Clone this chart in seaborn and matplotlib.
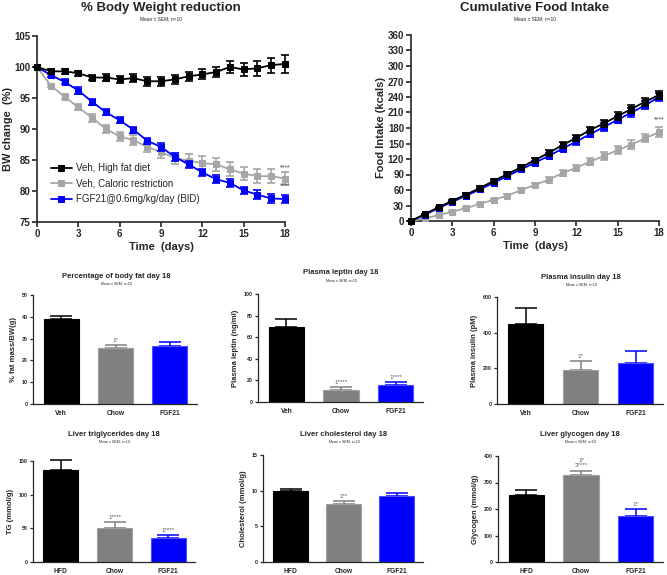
import numpy as np
import pandas as pd
import seaborn as sns
import matplotlib
matplotlib.use('Agg')
import matplotlib.pyplot as plt

# ---- time course data ----
days = list(range(19))
groups = ['Veh, High fat diet', 'Veh, Caloric restriction', 'FGF21@0.6mg/kg/day (BID)']
group_colors = ['#000000', '#a6a6a6', '#0000ff']

bw_hfd = [100, 99.3, 99.3, 99.0, 98.3, 98.3, 98.0, 98.2, 97.7, 97.7, 98.0, 98.5, 98.8, 99.2, 100.0, 99.6, 99.8, 100.3, 100.5]
bw_cr = [100, 97.0, 95.2, 93.5, 91.8, 90.0, 88.8, 88.2, 87.1, 86.3, 85.3, 84.9, 84.5, 84.3, 83.5, 82.8, 82.4, 82.4, 82.0]
bw_fgf = [100, 98.7, 97.6, 96.2, 94.4, 92.7, 91.4, 89.9, 88.1, 87.1, 85.5, 84.3, 83.0, 81.9, 81.3, 80.1, 79.4, 78.8, 78.7]
bw_hfd_sem = [0, 0.4, 0.4, 0.4, 0.4, 0.6, 0.6, 0.6, 0.7, 0.7, 0.7, 0.7, 0.8, 0.8, 0.9, 1.0, 1.2, 1.2, 1.4]
bw_cr_sem = [0, 0.3, 0.4, 0.5, 0.6, 0.7, 0.7, 0.8, 0.8, 0.9, 0.9, 1.0, 1.1, 1.1, 1.1, 1.1, 1.1, 1.1, 1.1]
bw_fgf_sem = [0, 0.3, 0.4, 0.5, 0.5, 0.5, 0.5, 0.5, 0.5, 0.6, 0.6, 0.6, 0.6, 0.6, 0.6, 0.6, 0.7, 0.7, 0.7]

fi_hfd = [0, 13.5, 26.5, 39.5, 51, 64, 77.5, 91, 104, 118, 132, 147, 161, 176, 189, 203, 217, 231, 244]
fi_cr = [0, 5, 11, 18, 25, 33, 41, 49, 60, 70, 80, 93, 103, 115, 126, 137, 148, 160, 172]
fi_fgf = [0, 12, 25, 37, 49, 61, 74, 87, 100, 113, 126, 140, 154, 168, 182, 196, 210, 224, 240]
fi_hfd_sem = [0, 1, 1.5, 2, 2.5, 3, 3, 3.5, 4, 4, 5, 5, 6, 6, 7, 7, 8, 8, 8]
fi_cr_sem = [0, 1, 1, 1.5, 2, 2, 2, 3, 3, 4, 5, 5, 6, 6, 7, 8, 8, 8, 9]
fi_fgf_sem = [0, 1, 1.5, 2, 2.5, 3, 3, 3.5, 4, 4, 5, 5, 6, 6, 7, 7, 8, 8, 8]

# ---- day 18 terminal data ----
bar_colors = ['#000000', '#808080', '#0000ff']
bar_edges = ['#000000', '#a0a0a0', '#4d4dff']
labels_veh = ['Veh', 'Chow', 'FGF21']
labels_hfd = ['HFD', 'Chow', 'FGF21']

fat_mean = [39.0, 25.5, 26.8]
fat_sem = [1.5, 1.7, 1.5]
fat_sig = ['', '1*', '']
leptin_mean = [69.5, 11.0, 16.0]
leptin_sem = [7.0, 3.0, 2.5]
leptin_sig = ['', '1****', '1****']
insulin_mean = [450, 190, 230]
insulin_sem = [90, 50, 65]
insulin_sig = ['', '1*', '']
tg_mean = [136, 50, 35]
tg_sem = [15, 10, 5]
tg_sig = ['', '1****', '1****']
chol_mean = [9.9, 8.2, 9.3]
chol_sem = [0.3, 0.3, 0.4]
chol_sig = ['', '1**', '']
gly_mean = [253, 330, 173]
gly_sem = [20, 15, 27]
gly_sig = ['', '1*\n3****', '1*']

W, H = 667, 575

sns.set_style('ticks')
plt.rcParams['font.family'] = ['Liberation Sans', 'DejaVu Sans']
plt.rcParams['axes.linewidth'] = 1.2
plt.rcParams['xtick.major.width'] = 1.2
plt.rcParams['ytick.major.width'] = 1.2

fig = plt.figure(figsize=(W / 100, H / 100), dpi=100)


def px_axes(x0, y0, x1, y1):
    return fig.add_axes([x0 / W, 1 - y1 / H, (x1 - x0) / W, (y1 - y0) / H])


def px_text(x, y, s, **kw):
    fig.text(x / W, 1 - y / H, s, ha='center', va='center', **kw)


def time_panel(ax, series, sems, ylim, yticks, ylabel):
    zs = [5, 3, 4]
    for i in range(3):
        df = pd.DataFrame({'day': days, 'val': series[i]})
        sns.lineplot(data=df, x='day', y='val', ax=ax, color=group_colors[i],
                     marker='s', markersize=4.8, markeredgecolor=group_colors[i],
                     linewidth=1.3, label=groups[i], zorder=zs[i], clip_on=False)
        ax.errorbar(days, series[i], yerr=sems[i], fmt='none', ecolor=group_colors[i],
                    elinewidth=1.2, capsize=2.8, capthick=1.2, zorder=zs[i], clip_on=False)
    ax.set_xlim(0, 18)
    ax.set_ylim(*ylim)
    ax.set_xticks(range(0, 19, 3))
    ax.set_yticks(yticks)
    sns.despine(ax=ax)
    ax.tick_params(labelsize=7, length=3.5, pad=1.5)
    for t in ax.get_xticklabels() + ax.get_yticklabels():
        t.set_fontweight('bold')
    ax.set_xlabel('Time  (days)', fontsize=8, fontweight='bold', labelpad=2)
    ax.set_ylabel(ylabel, fontsize=8, fontweight='bold', labelpad=1)


# % body weight
ax1 = px_axes(37, 36, 285, 222)
time_panel(ax1, [bw_hfd, bw_cr, bw_fgf], [bw_hfd_sem, bw_cr_sem, bw_fgf_sem],
           (75, 105), range(75, 106, 5), 'BW change  (%)')
ax1.legend(loc='lower left', bbox_to_anchor=(0.02, 0.05), frameon=False, fontsize=7,
           handlelength=2.2, handletextpad=0.4, labelspacing=0.55)
ax1.text(18, 83.2, '****', ha='center', va='bottom', fontsize=5, color='#444444')
ax1.text(18, 80.3, '****', ha='center', va='bottom', fontsize=5, color='#444444')
px_text(161, 8, '% Body Weight reduction', fontsize=9.5, fontweight='bold')
px_text(161, 19, 'Mean ± SEM; n=10', fontsize=3.5)

# cumulative food intake
ax2 = px_axes(411, 35, 659, 221)
time_panel(ax2, [fi_hfd, fi_cr, fi_fgf], [fi_hfd_sem, fi_cr_sem, fi_fgf_sem],
           (0, 360), range(0, 361, 30), 'Food Intake (kcals)')
ax2.get_legend().remove()
ax2.text(18, 188, '****', ha='center', va='bottom', fontsize=5, color='#444444')
px_text(535, 8, 'Cumulative Food Intake', fontsize=9.5, fontweight='bold')
px_text(535, 19, 'Mean ± SEM; n=10', fontsize=3.5)


def bar_panel(box, title_xy, title, cats, means, sems, sigs, ylim, step, ylabel):
    ax = px_axes(*box)
    df = pd.DataFrame({'group': cats, 'value': means})
    sns.barplot(data=df, x='group', y='value', hue='group', palette=bar_colors,
                saturation=1, width=0.65, legend=False, ax=ax, zorder=2)
    for p, ec in zip(ax.patches, bar_edges):
        p.set_edgecolor(ec)
        p.set_linewidth(0.8)
    for i in range(3):
        ax.errorbar(i, means[i], yerr=[[0], [sems[i]]], fmt='none', ecolor=bar_colors[i],
                    elinewidth=1.1, capsize=8, capthick=1.1, zorder=1, clip_on=False)
        if sigs[i]:
            ax.text(i, means[i] + sems[i] + ylim[1] * 0.02, sigs[i], ha='center', va='bottom',
                    fontsize=4.5, color='#555555', linespacing=1.0)
    ax.set_xlim(-0.52, 2.5)
    ax.set_ylim(*ylim)
    ax.set_yticks(np.arange(ylim[0], ylim[1] + step / 2, step))
    sns.despine(ax=ax)
    ax.spines['left'].set_linewidth(0.9)
    ax.spines['bottom'].set_linewidth(0.9)
    ax.tick_params(axis='y', labelsize=3.8, length=2.5, width=0.9, pad=1.5)
    ax.tick_params(axis='x', labelsize=4.8, length=0, pad=4)
    for t in ax.get_xticklabels() + ax.get_yticklabels():
        t.set_fontweight('bold')
    ax.set_xlabel('')
    ax.set_ylabel(ylabel, fontsize=5.5, fontweight='bold', labelpad=3)
    px_text(title_xy[0], title_xy[1], title, fontsize=5.5, fontweight='bold')
    px_text(title_xy[0], title_xy[1] + 7.5, 'Mean ± SEM; n=10', fontsize=2.6)
    return ax


bar_panel((33, 295, 197, 404), (116, 276), 'Percentage of body fat day 18', labels_veh,
          fat_mean, fat_sem, fat_sig, (0, 50), 10, '% fat mass/BW(g)')
bar_panel((258, 294, 423, 402), (341, 273), 'Plasma leptin day 18', labels_veh,
          leptin_mean, leptin_sem, leptin_sig, (0, 100), 20, 'Plasma leptin (ng/ml)')
bar_panel((497, 297, 663, 404), (581, 277), 'Plasma insulin day 18', labels_veh,
          insulin_mean, insulin_sem, insulin_sig, (0, 600), 200, 'Plasma insulin (pM)')
bar_panel((33, 461, 195, 562), (114, 434), 'Liver triglycerides day 18', labels_hfd,
          tg_mean, tg_sem, tg_sig, (0, 150), 50, 'TG (mmol/g)')
bar_panel((263, 455, 423, 562), (344, 434), 'Liver cholesterol day 18', labels_hfd,
          chol_mean, chol_sem, chol_sig, (0, 15), 5, 'Cholesterol (mmol/g)')
bar_panel((498, 456, 663, 562), (580, 434), 'Liver glycogen day 18', labels_hfd,
          gly_mean, gly_sem, gly_sig, (0, 400), 100, 'Glycogen (mmol/g)')

fig.savefig('out.png', dpi=100)
